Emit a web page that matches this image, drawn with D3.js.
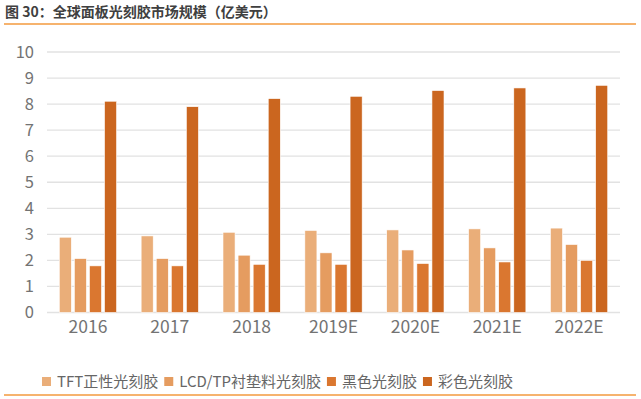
<!DOCTYPE html>
<html lang="zh">
<head>
  <meta charset="utf-8">
  <script src="https://d3js.org/d3.v7.min.js"></script>
  <style>
    body { margin: 0; background: #fff; }
    text { font-family: "Noto Sans CJK SC", "Noto Sans", sans-serif; }
  </style>
</head>
<body>
<script>

var years = ["2016", "2017", "2018", "2019E", "2020E", "2021E", "2022E"];
var seriesNames = ["TFT正性光刻胶", "LCD/TP衬垫料光刻胶", "黑色光刻胶", "彩色光刻胶"];
var tft   = [2.89, 2.94, 3.08, 3.15, 3.17, 3.21, 3.24];
var lcd   = [2.07, 2.07, 2.20, 2.29, 2.40, 2.48, 2.61];
var black = [1.79, 1.79, 1.85, 1.85, 1.88, 1.94, 2.00];
var color = [8.11, 7.90, 8.21, 8.30, 8.52, 8.62, 8.72];
var yTicks = [0, 1, 2, 3, 4, 5, 6, 7, 8, 9, 10];
var colors = ["#eaae79", "#e59c60", "#da7730", "#cb661f"];

var width = 641,
    height = 399;

var series = [tft, lcd, black, color];

var svg = d3.select("body").append("svg")
    .attr("width", width)
    .attr("height", height);

// title + orange rules
svg.append("text")
    .attr("x", 5)
    .attr("y", 17)
    .attr("font-size", 14)
    .attr("font-weight", "bold")
    .attr("fill", "#404040")
    .text("图 30：全球面板光刻胶市场规模（亿美元）");

svg.append("line")
    .attr("x1", 4).attr("x2", 636)
    .attr("y1", 24).attr("y2", 24)
    .attr("stroke", "#f39a3e")
    .attr("stroke-width", 1.5);

svg.append("line")
    .attr("x1", 4).attr("x2", 636)
    .attr("y1", 395).attr("y2", 395)
    .attr("stroke", "#f39a3e")
    .attr("stroke-width", 1.5);

var x = d3.scaleBand()
    .domain(years)
    .range([47, 620])
    .paddingInner(0.3)
    .paddingOuter(0.15);

var xs = d3.scaleBand()
    .domain(d3.range(series.length))
    .range([0, x.bandwidth()])
    .paddingInner(0.2);

var y = d3.scaleLinear()
    .domain([0, 10])
    .range([312.5, 52]);

// gridlines
svg.append("g")
    .selectAll("line")
    .data(yTicks)
  .enter().append("line")
    .attr("x1", 47)
    .attr("x2", 620)
    .attr("y1", function(d) { return y(d); })
    .attr("y2", function(d) { return y(d); })
    .attr("stroke", "#e2e2e2")
    .attr("stroke-width", 1.3);

// y axis labels
var yAxis = d3.axisLeft(y)
    .tickValues(yTicks)
    .tickSize(0)
    .tickPadding(0);

svg.append("g")
    .attr("transform", "translate(34,0)")
    .call(yAxis)
    .call(function(g) { g.select(".domain").remove(); })
    .selectAll("text")
    .attr("font-size", 16.5)
    .attr("fill", "#737373")
    .attr("font-family", "'Noto Sans CJK SC', sans-serif");

// bars
var groups = svg.append("g")
    .selectAll("g")
    .data(years)
  .enter().append("g")
    .attr("transform", function(d) { return "translate(" + x(d) + ",0)"; });

groups.selectAll("rect")
    .data(function(d, i) {
      return series.map(function(s, k) { return { k: k, v: s[i] }; });
    })
  .enter().append("rect")
    .attr("x", function(d) { return xs(d.k); })
    .attr("width", xs.bandwidth())
    .attr("y", function(d) { return y(d.v); })
    .attr("height", function(d) { return y(0) - y(d.v); })
    .attr("fill", function(d) { return colors[d.k]; })
    .attr("stroke", "#fff")
    .attr("stroke-width", 0.6);

// x axis labels
var xAxis = d3.axisBottom(x)
    .tickSize(0)
    .tickPadding(0);

svg.append("g")
    .attr("transform", "translate(0,321)")
    .call(xAxis)
    .call(function(g) { g.select(".domain").remove(); })
    .selectAll("text")
    .attr("font-size", 17.5)
    .attr("fill", "#737373")
    .attr("font-family", "'Noto Sans CJK SC', sans-serif");

// legend
var legend = svg.append("g");
var lx = 42;
seriesNames.forEach(function(name, k) {
  legend.append("rect")
      .attr("x", lx)
      .attr("y", 377)
      .attr("width", 9)
      .attr("height", 9)
      .attr("fill", colors[k]);
  var t = legend.append("text")
      .attr("x", lx + 15)
      .attr("y", 387)
      .attr("font-size", 15)
      .attr("fill", "#666666")
      .text(name);
  lx += 15 + t.node().getComputedTextLength() + 6;
});

</script>
</body>
</html>
